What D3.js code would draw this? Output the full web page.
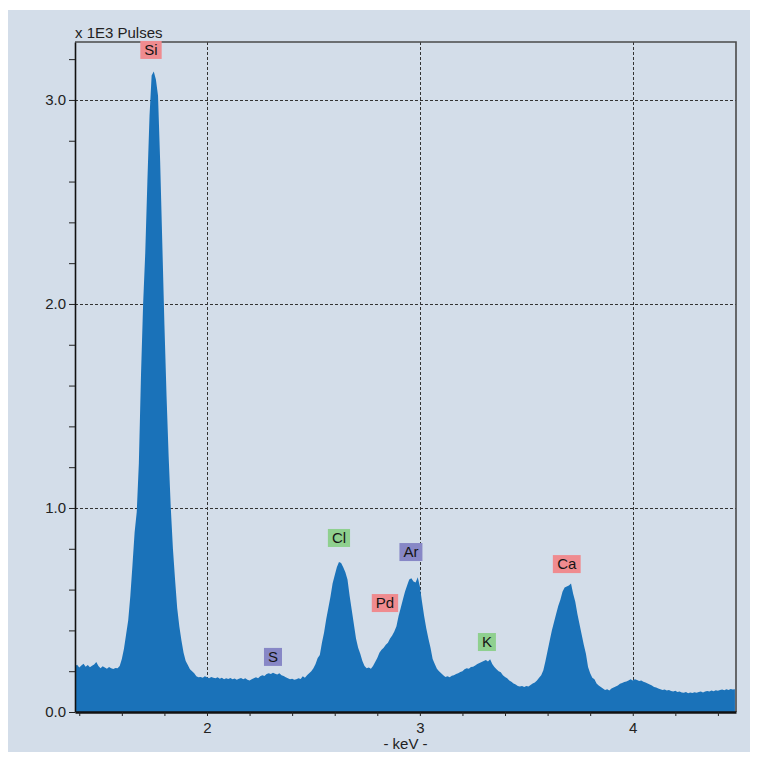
<!DOCTYPE html>
<html><head><meta charset="utf-8">
<script src="https://cdn.jsdelivr.net/npm/d3@7"></script>
<style>
body{margin:0;background:#fff;}
svg{display:block;font-family:"Liberation Sans",Arial,sans-serif;}
</style>
</head><body>
<svg id="chart" width="758" height="758"></svg>
<script>
// ---- data ----
const energyStart = 1.38;   // keV of first channel
const energyStep = 0.01;    // keV per channel
const counts = [ // x 1E3 pulses
  0.225, 0.232, 0.218, 0.228, 0.236, 0.222, 0.230, 0.219, 0.227, 0.233,
  0.245, 0.226, 0.215, 0.224, 0.218, 0.212, 0.220, 0.214, 0.211, 0.216,
  0.215, 0.225, 0.26, 0.31, 0.38, 0.45, 0.57, 0.72, 0.88, 0.98,
  1.22, 1.65, 2.0, 2.25, 2.6, 2.92, 3.12, 3.14, 3.10, 3.02,
  2.7, 2.3, 1.9, 1.55, 1.25, 1.0, 0.80, 0.65, 0.51, 0.42,
  0.35, 0.29, 0.25, 0.23, 0.21, 0.20, 0.19, 0.175, 0.17, 0.172,
  0.168, 0.175, 0.17, 0.166, 0.172, 0.168, 0.165, 0.17, 0.163, 0.168,
  0.16, 0.166, 0.162, 0.167, 0.16, 0.164, 0.158, 0.163, 0.167, 0.16,
  0.165, 0.158, 0.155, 0.16, 0.165, 0.17, 0.166, 0.175, 0.18, 0.177,
  0.186, 0.19, 0.186, 0.192, 0.188, 0.184, 0.19, 0.18, 0.176, 0.17,
  0.165, 0.16, 0.163, 0.158, 0.16, 0.165, 0.162, 0.175, 0.168, 0.18,
  0.19, 0.2, 0.215, 0.235, 0.265, 0.28, 0.34, 0.39, 0.455, 0.51,
  0.565, 0.63, 0.67, 0.71, 0.735, 0.73, 0.71, 0.685, 0.65, 0.57,
  0.50, 0.43, 0.36, 0.315, 0.285, 0.25, 0.225, 0.215, 0.218, 0.212,
  0.225, 0.245, 0.265, 0.29, 0.305, 0.315, 0.33, 0.34, 0.36, 0.375,
  0.395, 0.42, 0.47, 0.51, 0.55, 0.59, 0.62, 0.65, 0.655, 0.64,
  0.635, 0.66, 0.615, 0.54, 0.47, 0.41, 0.36, 0.315, 0.26, 0.235,
  0.212, 0.2, 0.19, 0.18, 0.172, 0.175, 0.17, 0.178, 0.18, 0.186,
  0.19, 0.196, 0.2, 0.21, 0.215, 0.212, 0.22, 0.222, 0.228, 0.235,
  0.24, 0.245, 0.25, 0.255, 0.248, 0.258, 0.235, 0.22, 0.21, 0.2,
  0.195, 0.18, 0.172, 0.165, 0.155, 0.148, 0.14, 0.135, 0.128, 0.125,
  0.127, 0.122, 0.128, 0.125, 0.132, 0.14, 0.145, 0.155, 0.168, 0.18,
  0.205, 0.25, 0.3, 0.35, 0.40, 0.44, 0.48, 0.52, 0.55, 0.59,
  0.61, 0.615, 0.62, 0.63, 0.58, 0.54, 0.48, 0.43, 0.38, 0.33,
  0.285, 0.22, 0.19, 0.168, 0.16, 0.14, 0.13, 0.122, 0.115, 0.108,
  0.112, 0.105, 0.115, 0.12, 0.125, 0.13, 0.138, 0.142, 0.147, 0.15,
  0.155, 0.16, 0.155, 0.16, 0.157, 0.152, 0.155, 0.148, 0.145, 0.14,
  0.135, 0.13, 0.122, 0.12, 0.115, 0.112, 0.108, 0.11, 0.105, 0.108,
  0.103, 0.1, 0.104, 0.098, 0.1, 0.096, 0.094, 0.098, 0.092, 0.095,
  0.093, 0.097, 0.094, 0.098, 0.1, 0.096, 0.1, 0.103, 0.1, 0.105,
  0.102, 0.107, 0.104, 0.108, 0.11, 0.107, 0.112, 0.108, 0.113, 0.11, 0.112
];
const xDomain = [1.38, 4.485];
const yDomain = [0, 3.284];
const xTicks = [1.4, 1.6, 1.8, 2.0, 2.2, 2.4, 2.6, 2.8, 3.0, 3.2, 3.4, 3.6, 3.8, 4.0, 4.2, 4.4];
const xLabeled = [2, 3, 4];
const yTicks = [0, 0.2, 0.4, 0.6, 0.8, 1.0, 1.2, 1.4, 1.6, 1.8, 2.0, 2.2, 2.4, 2.6, 2.8, 3.0, 3.2];
const yLabeled = [0, 1, 2, 3];
const xGrid = [2, 3, 4];
const yGrid = [1, 2, 3];
const yTitle = "x 1E3 Pulses";
const xTitle = "- keV -";
const elements = ["Si", "S", "Cl", "Pd", "Ar", "K", "Ca"];
const elementEnergy = [1.737, 2.310, 2.620, 2.836, 2.958, 3.315, 3.690];
const elementLabelLevel = [3.245, 0.270, 0.853, 0.534, 0.784, 0.343, 0.725];
const elementGroup = ["a", "b", "c", "a", "b", "c", "a"];

// ---- styles ----
const groupColor = {a: "#ef8b8f", b: "#8787c6", c: "#8fd08f"};
const fillColor = "#1a72b9";
const FS = 15;

const svg = d3.select("#chart");
const M = {left: 75, right: 736, top: 42, bottom: 712};

svg.append("rect").attr("x", 8).attr("y", 10).attr("width", 742).attr("height", 742)
  .attr("fill", "#d3dde9");

const x = d3.scaleLinear().domain(xDomain).range([M.left, M.right]);
const y = d3.scaleLinear().domain(yDomain).range([M.bottom, M.top]);

// grid (behind spectrum)
const grid = svg.append("g").attr("stroke", "#333").attr("stroke-width", 1)
  .attr("stroke-dasharray", "3,2").attr("fill", "none");
grid.selectAll("line.gx").data(xGrid).join("line").attr("class", "gx")
  .attr("x1", d => Math.round(x(d)) + 0.5).attr("x2", d => Math.round(x(d)) + 0.5)
  .attr("y1", M.top).attr("y2", M.bottom);
grid.selectAll("line.gy").data(yGrid).join("line").attr("class", "gy")
  .attr("y1", d => Math.round(y(d)) + 0.5).attr("y2", d => Math.round(y(d)) + 0.5)
  .attr("x1", M.left).attr("x2", M.right);

// spectrum
const pts = counts.map((c, i) => [energyStart + i * energyStep, c]);
const area = d3.area().x(d => x(d[0])).y0(y(0)).y1(d => y(d[1])).curve(d3.curveLinear);
svg.append("path").datum(pts).attr("d", area).attr("fill", fillColor);

// frame top/right
svg.append("path")
  .attr("d", `M${M.left},${M.top}H${M.right}V${M.bottom}`)
  .attr("fill", "none").attr("stroke", "#4a4a4a").attr("stroke-width", 1.6);

// axes
const yAxis = d3.axisLeft(y).tickValues(yTicks).tickSize(6).tickSizeOuter(0).tickPadding(3)
  .tickFormat(d => yLabeled.some(v => Math.abs(v - d) < 1e-9) ? d3.format(".1f")(d) : "");
const gy = svg.append("g").attr("transform", `translate(${M.left},0)`).call(yAxis);
gy.select(".domain").attr("stroke", "#111").attr("stroke-width", 1.6);
gy.selectAll(".tick line").attr("stroke", "#222");
gy.selectAll("text").attr("font-size", FS).attr("fill", "#222").attr("font-family", "Liberation Sans, Arial, sans-serif");

const xAxis = d3.axisBottom(x).tickValues(xTicks).tickSize(4).tickSizeOuter(0).tickPadding(6)
  .tickFormat(d => xLabeled.some(v => Math.abs(v - d) < 1e-9) ? d3.format("d")(Math.round(d)) : "");
const gx = svg.append("g").attr("transform", `translate(0,${M.bottom})`).call(xAxis);
gx.select(".domain").attr("stroke", "#111").attr("stroke-width", 2.6);
gx.selectAll(".tick line").attr("stroke", "#222");
gx.selectAll("text").attr("font-size", FS).attr("fill", "#222").attr("font-family", "Liberation Sans, Arial, sans-serif");

// titles
svg.append("text").attr("x", M.left).attr("y", 38).attr("font-size", FS).attr("fill", "#222")
  .text(yTitle);
svg.append("text").attr("x", (M.left + M.right) / 2).attr("y", 749).attr("text-anchor", "middle")
  .attr("font-size", FS).attr("fill", "#222").text(xTitle);

// element labels
const lab = svg.selectAll("g.el").data(elements).join("g").attr("class", "el")
  .attr("transform", (d, i) => `translate(${x(elementEnergy[i])},${y(elementLabelLevel[i])})`);
lab.append("rect").attr("fill", (d, i) => groupColor[elementGroup[i]]);
lab.append("text").attr("text-anchor", "middle").attr("dy", "0.36em")
  .attr("font-size", FS).attr("fill", "#151515").text(d => d);
lab.each(function() {
  const g = d3.select(this);
  const bb = g.select("text").node().getBBox();
  g.select("rect").attr("x", -bb.width / 2 - 4).attr("y", -9)
    .attr("width", bb.width + 8).attr("height", 18);
});
</script>
</body></html>
